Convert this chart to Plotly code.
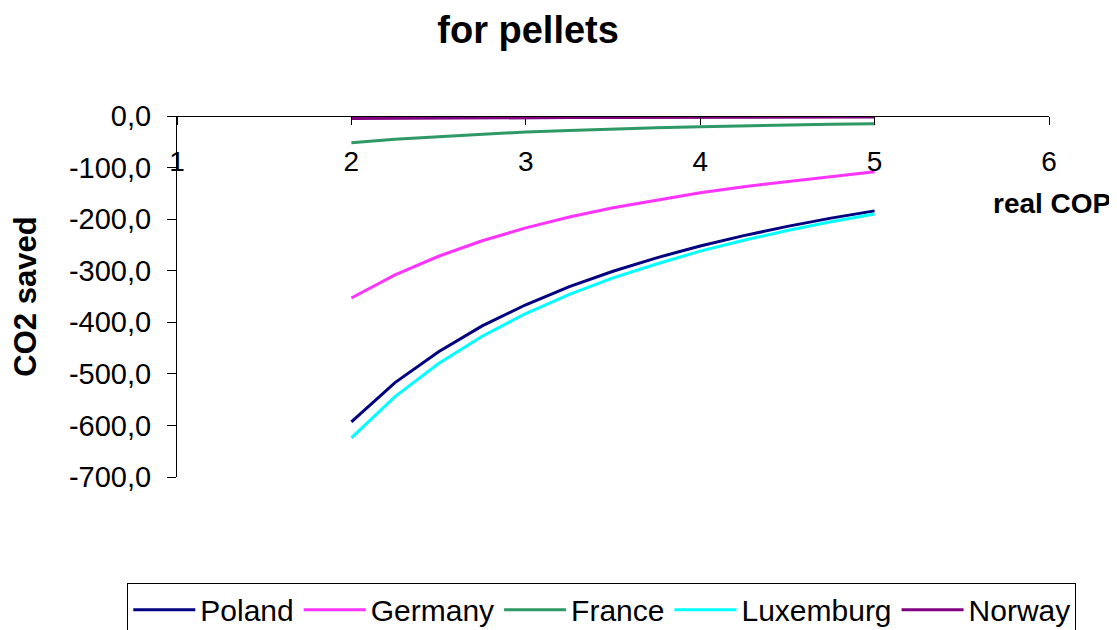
import plotly.graph_objects as go

# real COP values (x axis)
cop = [2.0, 2.25, 2.5, 2.75, 3.0, 3.25, 3.5, 3.75, 4.0, 4.25, 4.5, 4.75, 5.0]

# CO2 saved per country
poland = [-593, -517, -457, -407, -366, -331, -301, -275, -252, -232, -214, -198, -184]
germany = [-353, -308, -272, -242, -217, -196, -178, -163, -149, -137, -127, -117, -108]
france = [-52, -45, -40, -35, -31, -28, -25, -23, -21, -19, -18, -16, -15]
luxemburg = [-624, -544, -480, -427, -383, -346, -314, -287, -262, -241, -222, -205, -190]
norway = [-5.0, -4.4, -4.0, -3.6, -3.3, -3.1, -2.9, -2.7, -2.5, -2.4, -2.2, -2.1, -2.0]

y_ticks = [0, -100, -200, -300, -400, -500, -600, -700]
y_labels = ["0,0", "-100,0", "-200,0", "-300,0", "-400,0", "-500,0", "-600,0", "-700,0"]
x_ticks = [1, 2, 3, 4, 5, 6]

FONT = "Liberation Sans, Arial, sans-serif"

series = [
    ("Poland", poland, "#000080"),
    ("Germany", germany, "#FF33FF"),
    ("France", france, "#2E9966"),
    ("Luxemburg", luxemburg, "#00FFFF"),
    ("Norway", norway, "#800080"),
]

data = []
for name, vals, col in series:
    data.append(go.Scatter(x=cop, y=vals, mode="lines", name=name,
                           line=dict(color=col, width=3)))

# the page body adds an 8px offset, so the figure is 8px smaller
layout = go.Layout(
    width=1109, height=622,
    margin=dict(l=169, r=68, t=108, b=153, autoexpand=False),
    paper_bgcolor="white", plot_bgcolor="white",
    font=dict(family=FONT, size=28, color="black"),
    title=dict(text="<b>for pellets</b>", x=0.469, xanchor="center",
               y=0.965, yanchor="middle", font=dict(size=38)),
    xaxis=dict(range=[1, 6], tickvals=x_ticks, showgrid=False, zeroline=False,
               showline=True, linecolor="black", linewidth=1,
               anchor="free", position=1, side="bottom", automargin=False,
               ticks="outside", ticklen=8, tickcolor="black",
               ticklabelstandoff=12, tickfont=dict(size=28)),
    yaxis=dict(range=[-700, 0], domain=[0, 1], tickvals=y_ticks, ticktext=y_labels,
               showgrid=False, zeroline=False, showline=True, automargin=False,
               linecolor="black", linewidth=1, ticks="outside", ticklen=9,
               tickcolor="black", tickfont=dict(size=29), ticklabelstandoff=10,
               title=dict(text="<b>CO2 saved</b>", font=dict(size=31), standoff=28)),
    legend=dict(orientation="h", x=-0.057, xanchor="left", y=-0.293, yanchor="top",
                bordercolor="black", borderwidth=1, font=dict(size=30),
                bgcolor="white", itemwidth=62),
    annotations=[dict(text="<b>real COP</b>", x=1.073, y=-170, xref="paper", yref="y",
                      showarrow=False, font=dict(size=28), xanchor="right")],
)

fig = go.Figure(data=data, layout=layout)
fig.write_html("out.html")
